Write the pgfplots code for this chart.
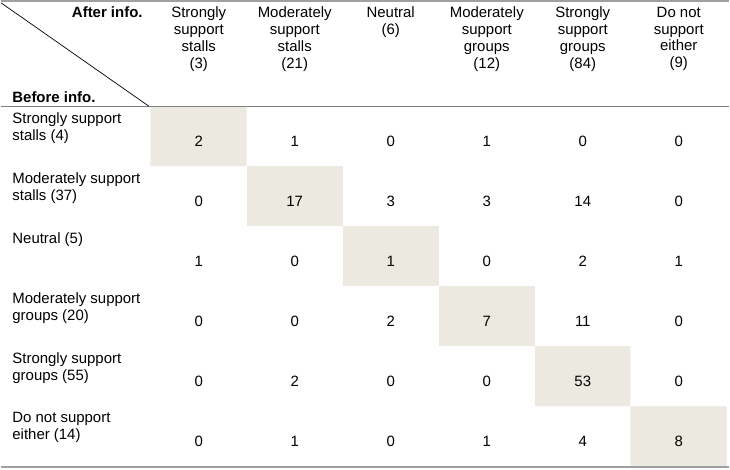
\documentclass[border=0pt]{standalone}
\usepackage{pgfplots}
\pgfplotsset{compat=1.18}
\usepackage{pgfplotstable}
\usepackage{fontspec}
\setmainfont{Liberation Sans}
\definecolor{cellbg}{RGB}{235,233,224}
\definecolor{rulegray}{RGB}{160,160,160}
\definecolor{midgray}{RGB}{128,128,128}
\pgfplotstableread{
x y d v
198.2 137.1 1 2
294.5 137.1 0 1
390.8 137.1 0 0
487.2 137.1 0 1
583.5 137.1 0 0
679.8 137.1 0 0
198.2 197.3 0 0
294.5 197.3 1 17
390.8 197.3 0 3
487.2 197.3 0 3
583.5 197.3 0 14
679.8 197.3 0 0
198.2 257.4 0 1
294.5 257.4 0 0
390.8 257.4 1 1
487.2 257.4 0 0
583.5 257.4 0 2
679.8 257.4 0 1
198.2 317.6 0 0
294.5 317.6 0 0
390.8 317.6 0 2
487.2 317.6 1 7
583.5 317.6 0 11
679.8 317.6 0 0
198.2 377.8 0 0
294.5 377.8 0 2
390.8 377.8 0 0
487.2 377.8 0 0
583.5 377.8 1 53
679.8 377.8 0 0
198.2 437.9 0 0
294.5 437.9 0 1
390.8 437.9 0 0
487.2 437.9 0 1
583.5 437.9 0 4
679.8 437.9 1 8
}\crosstab
\begin{document}
\begin{tikzpicture}
\begin{axis}[
  scale only axis,
  width=730bp, height=471bp,
  xmin=0, xmax=730, ymin=0, ymax=471,
  y dir=reverse,
  clip=false,
  axis line style={draw=none},
  major tick style={draw=none},
  major tick length=0pt,
  xtick={198.2,294.5,390.8,487.2,583.5,679.8},
  xticklabels={{Strongly\\support\\stalls\\(3)},{Moderately\\support\\stalls\\(21)},{Neutral\\(6)},{Moderately\\support\\groups\\(12)},{Strongly\\support\\groups\\(84)},{Do not\\support\\either\\(9)}},
  xticklabel pos=upper,
  xticklabel style={anchor=north, align=center, inner sep=0pt, yshift=-6.6bp, font=\fontsize{15bp}{17bp}\selectfont},
  ytick={137.1,197.3,257.4,317.6,377.8,437.9},
  yticklabels={{Strongly support\\stalls (4)},{Moderately support\\stalls (37)},{Neutral (5)},{Moderately support\\groups (20)},{Strongly support\\groups (55)},{Do not support\\either (14)}},
  yticklabel pos=lower,
  yticklabel style={anchor=north west, align=left, inner sep=0pt, xshift=11bp, yshift=24.5bp, font=\fontsize{15bp}{17bp}\selectfont},
  colormap={cells}{rgb255=(255,255,255) rgb255=(235,233,224)},
  point meta min=0, point meta max=1,
]
\addplot[matrix plot*, mesh/cols=6, point meta=\thisrow{d}, draw=none] table[x=x, y=y] {\crosstab};
\addplot[draw=none, nodes near coords, point meta=explicit symbolic,
  every node near coord/.append style={anchor=center, yshift=-4.5bp, inner sep=0pt, font=\fontsize{15bp}{17bp}\selectfont, text=black}]
  table[x=x, y=y, meta=v] {\crosstab};
\draw[rulegray, line width=2bp] (axis cs:0,1) -- (axis cs:730,1);
\draw[midgray, line width=1.2bp] (axis cs:0,106.5) -- (axis cs:730,106.5);
\draw[rulegray, line width=2.5bp] (axis cs:0,468.5) -- (axis cs:730,468.5);
\draw[black, line width=0.7bp] (axis cs:0,3) -- (axis cs:148,106.5);
\node[anchor=east, inner sep=0pt, font=\fontsize{15bp}{17bp}\selectfont\bfseries] at (axis cs:142,12) {After info.};
\node[anchor=west, inner sep=0pt, font=\fontsize{15bp}{17bp}\selectfont\bfseries] at (axis cs:11,97) {Before info.};
\end{axis}
\end{tikzpicture}
\end{document}
